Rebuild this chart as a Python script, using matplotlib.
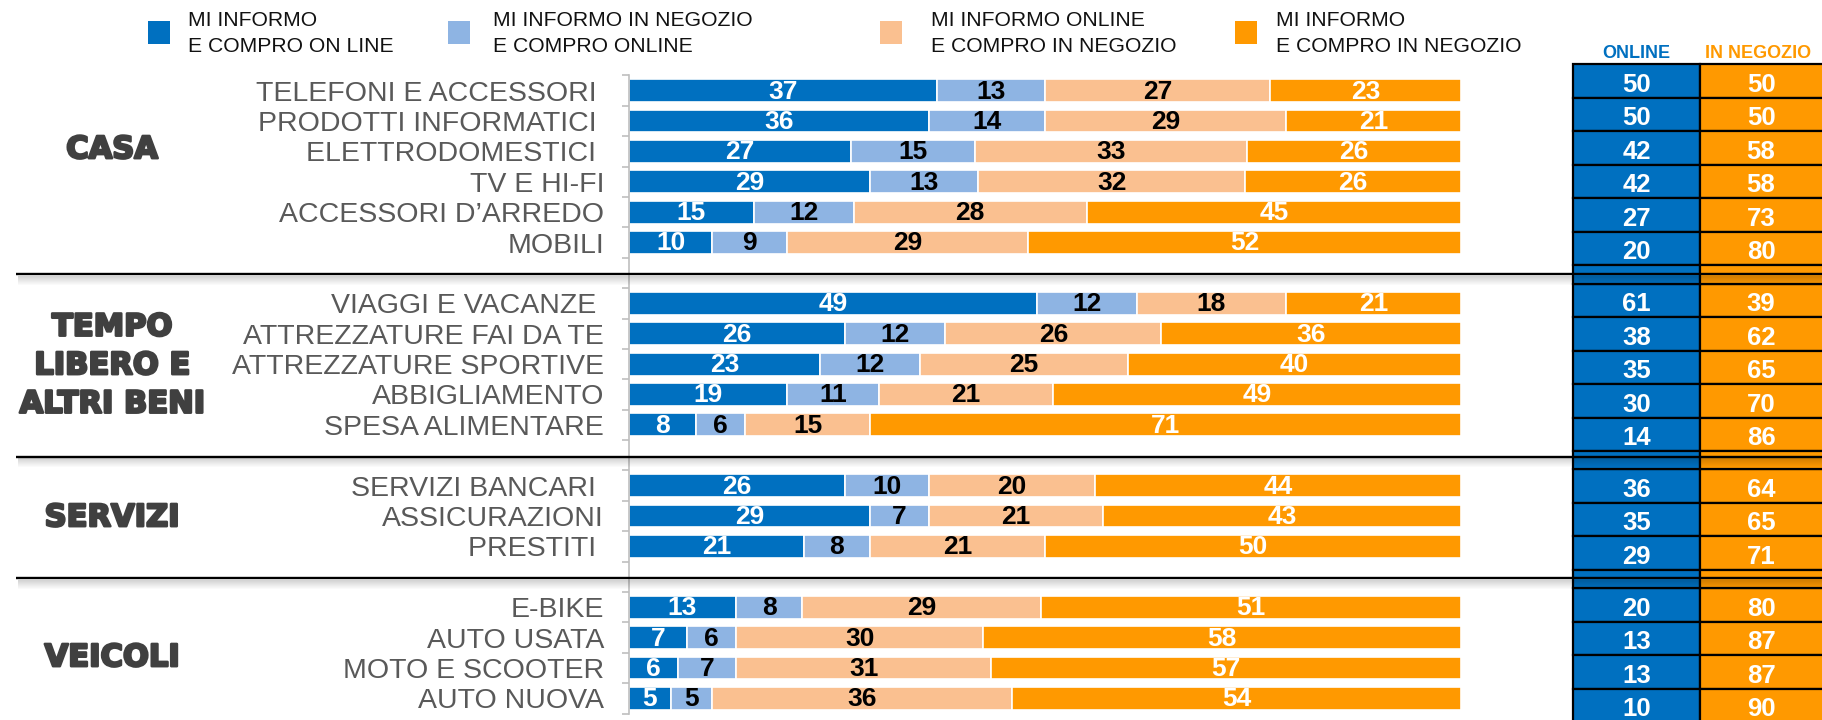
import matplotlib
matplotlib.use("Agg")
import matplotlib.pyplot as plt
from matplotlib.patches import Rectangle
import matplotlib.patheffects as pe
import numpy as np

plt.rcParams['font.family'] = ['Liberation Sans', 'DejaVu Sans']

# ---------------- data ----------------
groups = ["CASA", "TEMPO\nLIBERO E\nALTRI BENI", "SERVIZI", "VEICOLI"]
group_sizes = [6, 5, 3, 4]
categories = [
    "TELEFONI E ACCESSORI ", "PRODOTTI INFORMATICI ", "ELETTRODOMESTICI ",
    "TV E HI-FI", "ACCESSORI D\u2019ARREDO", "MOBILI",
    "VIAGGI E VACANZE ", "ATTREZZATURE FAI DA TE", "ATTREZZATURE SPORTIVE",
    "ABBIGLIAMENTO", "SPESA ALIMENTARE",
    "SERVIZI BANCARI ", "ASSICURAZIONI", "PRESTITI ",
    "E-BIKE", "AUTO USATA", "MOTO E SCOOTER", "AUTO NUOVA",
]
series_names = [
    "MI INFORMO\nE COMPRO ON LINE",
    "MI INFORMO IN NEGOZIO\nE COMPRO ONLINE",
    "MI INFORMO ONLINE\nE COMPRO IN NEGOZIO",
    "MI INFORMO\nE COMPRO IN NEGOZIO",
]
online_online = [37, 36, 27, 29, 15, 10, 49, 26, 23, 19, 8, 26, 29, 21, 13, 7, 6, 5]
store_online = [13, 14, 15, 13, 12, 9, 12, 12, 12, 11, 6, 10, 7, 8, 8, 6, 7, 5]
online_store = [27, 29, 33, 32, 28, 29, 18, 26, 25, 21, 15, 20, 21, 21, 29, 30, 31, 36]
store_store = [23, 21, 26, 26, 45, 52, 21, 36, 40, 49, 71, 44, 43, 50, 51, 58, 57, 54]
total_online = [50, 50, 42, 42, 27, 20, 61, 38, 35, 30, 14, 36, 35, 29, 20, 13, 13, 10]
total_store = [50, 50, 58, 58, 73, 80, 39, 62, 65, 70, 86, 64, 65, 71, 80, 87, 87, 90]
table_headers = ["ONLINE", "IN NEGOZIO"]

# ---------------- style ----------------
BLUE, LBLUE, PEACH, ORANGE = "#0070C0", "#8EB4E3", "#FAC090", "#FF9900"
colors = [BLUE, LBLUE, PEACH, ORANGE]
txt_colors = ["white", "black", "black", "white"]

W, H = 1822, 720
fig = plt.figure(figsize=(W / 100, H / 100), dpi=100)

# slot positions (one empty slot between groups)
pos = []
s = 0
sep_slots = []
for g, n in enumerate(group_sizes):
    pos.extend(range(s, s + n))
    s += n
    if g < len(group_sizes) - 1:
        sep_slots.append(s)
    s += 1
pos = np.array(pos)

top_px, slot_px = 75.4, 30.39
bot_px = top_px + 21 * slot_px
ax = fig.add_axes([629 / W, 1 - bot_px / H, 832 / W, (bot_px - top_px) / H])
ax.set_xlim(0, 100)
ax.set_ylim(20.5, -0.5)

vals = np.array([online_online, store_online, online_store, store_store], float)
norm = vals / vals.sum(axis=0) * 100
left = np.zeros(len(categories))
for k in range(4):
    ax.barh(pos, norm[k], left=left, height=0.75, color=colors[k],
            edgecolor="white", linewidth=1.2)
    for p, l, w, v in zip(pos, left, norm[k], vals[k]):
        ax.text(l + w / 2, p + 0.03, f"{int(v)}", ha="center", va="center",
                color=txt_colors[k], fontsize=19, fontweight="bold")
    left += norm[k]

for sp in ["top", "right", "bottom"]:
    ax.spines[sp].set_visible(False)
ax.spines["left"].set_color("#BFBFBF")
ax.spines["left"].set_linewidth(1.2)
ax.set_xticks([])
ax.set_yticks(pos, categories)
ax.set_yticks(np.arange(-0.5, 21, 1), minor=True)
ax.tick_params(axis="y", which="major", length=0, pad=18.0,
               labelsize=20.5, labelcolor="#595959")
ax.tick_params(axis="y", which="minor", length=5, width=1.2, color="#BFBFBF")
ax.patch.set_alpha(0)

# ---------------- overlay (pixel coordinates) ----------------
ov = fig.add_axes([0, 0, 1, 1])
ov.set_xlim(0, W)
ov.set_ylim(H, 0)
ov.axis("off")
ov.patch.set_alpha(0)

# legend
sq_x = [148, 448, 880, 1235]
tx_x = [188, 493, 931, 1276]
for k in range(4):
    ov.add_patch(Rectangle((sq_x[k], 21), 22, 23, fc=colors[k], lw=0))
    l1, l2 = series_names[k].split("\n")
    ov.text(tx_x[k], 26, l1, fontsize=15.2, color="#111111", va="baseline", ha="left")
    ov.text(tx_x[k], 51.5, l2, fontsize=15.2, color="#111111", va="baseline", ha="left")

# group labels
grp_y = [147, 363, 515, 655]
for g, name in enumerate(groups):
    lines = name.split("\n")
    n = len(lines)
    for i, ln in enumerate(lines):
        yc = grp_y[g] + (i - (n - 1) / 2) * 38.5
        ov.text(112, yc + 11.2, ln, ha="center", va="baseline", fontsize=22,
                family="DejaVu Sans", fontweight="bold", color="#404040",
                path_effects=[pe.withStroke(linewidth=1.8, foreground="#404040")])

# table
tx0, tx1, tx2 = 1573, 1700, 1835
row_h, strip_h = 33.5, 18.3
y = 64.3
row_y, strip_y = [], []
for g, n in enumerate(group_sizes):
    for i in range(n):
        row_y.append(y)
        y += row_h
    if g < len(group_sizes) - 1:
        strip_y.append(y)
        y += strip_h

for ry, a, b in zip(row_y, total_online, total_store):
    ov.add_patch(Rectangle((tx0, ry), tx1 - tx0, row_h, fc=BLUE, ec="black", lw=1.6))
    ov.add_patch(Rectangle((tx1, ry), tx2 - tx1, row_h, fc=ORANGE, ec="black", lw=1.6))
    ov.text((tx0 + tx1) / 2, ry + row_h / 2 + 10.8, f"{a}", ha="center", va="baseline",
            color="white", fontsize=18.5, fontweight="bold")
    ov.text((tx1 + 1822) / 2, ry + row_h / 2 + 10.8, f"{b}", ha="center", va="baseline",
            color="white", fontsize=18.5, fontweight="bold")
for sy in strip_y:
    ov.add_patch(Rectangle((tx0, sy), tx1 - tx0, strip_h, fc=BLUE, ec="black", lw=1.6))
    ov.add_patch(Rectangle((tx1, sy), tx2 - tx1, strip_h, fc=ORANGE, ec="black", lw=1.6))

ov.text(1636, 58.2, table_headers[0], ha="center", va="baseline", color=BLUE,
        fontsize=13, fontweight="bold")
ov.text(1758, 58.2, table_headers[1], ha="center", va="baseline", color=ORANGE,
        fontsize=13, fontweight="bold")

# separator lines with shadow
for sl in sep_slots:
    ly = top_px + (sl + 0.5) * slot_px + 1.5
    for j in range(9):
        ov.add_patch(Rectangle((18, ly + 1.2 + j), W, 1, fc="black",
                               alpha=0.17 * (1 - j / 9), lw=0))
    ov.plot([15.7, W], [ly, ly], color="black", lw=1.7, solid_capstyle="butt")

fig.savefig("out.png", dpi=100)
